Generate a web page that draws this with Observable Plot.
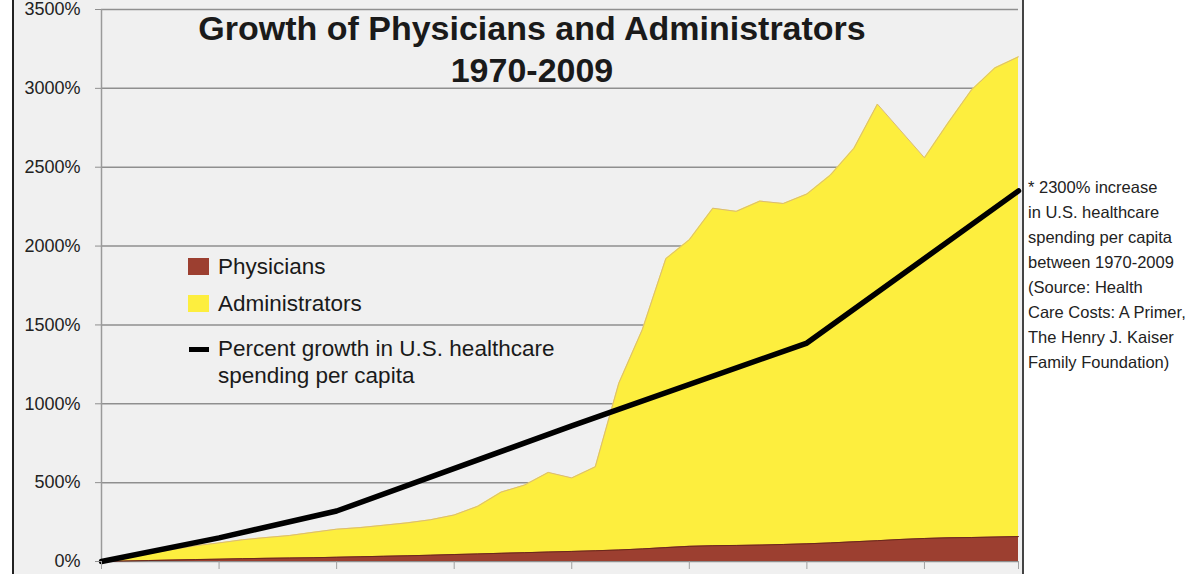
<!DOCTYPE html>
<html>
<head>
<meta charset="utf-8">
<script src="https://cdn.jsdelivr.net/npm/d3@7"></script>
<script src="https://cdn.jsdelivr.net/npm/@observablehq/plot@0.6"></script>
<style>
  html, body { margin: 0; padding: 0; background: #ffffff; }
  #wrap { position: relative; width: 1200px; height: 574px; overflow: hidden; font-family: "Liberation Sans", Arial, sans-serif; }
  #panel { position: absolute; left: 12px; top: 0; width: 1008px; height: 574px; background: #f0f0f0; border-left: 2px solid #222; border-right: 2px solid #444; }
  #chart { position: absolute; left: 0; top: 0; }
  .title { position: absolute; left: 0; width: 1064px; text-align: center; font-weight: bold; font-size: 34px; line-height: 42px; color: #1a1a1a; }
  .leg { position: absolute; font-size: 22.5px; line-height: 22px; color: #1a1a1a; white-space: nowrap; }
  .sw { position: absolute; }
  #note { position: absolute; left: 1028px; top: 175px; font-size: 16.5px; line-height: 25px; color: #222; }
</style>
</head>
<body>
<div id="wrap">
  <div id="panel"></div>
  <div id="chart"></div>
  <div class="title" style="top:7px;">Growth of Physicians and Administrators<br>1970-2009</div>
  <div class="sw" style="left:188px; top:258px; width:21px; height:17px; background:#9c3f30;"></div>
  <div class="leg" style="left:218px; top:256px;">Physicians</div>
  <div class="sw" style="left:188px; top:295px; width:21px; height:17px; background:#fdee3e;"></div>
  <div class="leg" style="left:218px; top:293px;">Administrators</div>
  <div class="sw" style="left:189px; top:347px; width:20px; height:5px; background:#000;"></div>
  <div class="leg" style="left:218px; top:338px;">Percent growth in U.S. healthcare</div>
  <div class="leg" style="left:218px; top:365px;">spending per capita</div>
  <div id="note">* 2300% increase<br>in U.S. healthcare<br>spending per capita<br>between 1970-2009<br>(Source: Health<br>Care Costs: A Primer,<br>The Henry J. Kaiser<br>Family Foundation)</div>
</div>
<script>
const years = [1970,1971,1972,1973,1974,1975,1976,1977,1978,1979,
               1980,1981,1982,1983,1984,1985,1986,1987,1988,1989,
               1990,1991,1992,1993,1994,1995,1996,1997,1998,1999,
               2000,2001,2002,2003,2004,2005,2006,2007,2008,2009];
const administrators = [0,25,50,75,100,118,138,152,165,185,
                        205,215,230,245,265,295,350,440,485,565,
                        530,600,1130,1470,1920,2040,2240,2220,2285,2270,
                        2330,2450,2620,2900,2730,2560,2780,2990,3130,3200];
const physicians = [0,3,6,9,12,15,18,20,22,24,
                    27,30,33,36,40,44,48,52,56,60,
                    64,68,73,80,88,96,100,102,104,108,
                    112,118,125,132,140,146,150,152,155,158];
const spendingYears = [1970,1975,1980,1990,2000,2009];
const spending = [0,150,320,860,1385,2350];
const yTicks = [0,500,1000,1500,2000,2500,3000,3500];
const xTicks = [1970,1975,1980,1985,1990,1995,2000,2005,2009];

const adminData = years.map((y,i) => ({year: y, value: administrators[i]}));
const physData = years.map((y,i) => ({year: y, value: physicians[i]}));
const spendData = spendingYears.map((y,i) => ({year: y, value: spending[i]}));

const chart = Plot.plot({
  width: 1200,
  height: 574,
  marginLeft: 101,
  marginRight: 182,
  marginTop: 9,
  marginBottom: 13,
  x: {domain: [1970, 2009], label: null},
  y: {domain: [0, 3500], label: null},
  style: {background: "transparent", fontFamily: "'Liberation Sans', Arial, sans-serif", color: "#222", overflow: "visible"},
  marks: [
    Plot.gridY(yTicks, {stroke: "#8f8f8f", strokeOpacity: 1, strokeWidth: 1.5}),
    Plot.areaY(adminData, {x: "year", y: "value", fill: "#fdee3e"}),
    Plot.lineY(adminData, {x: "year", y: "value", stroke: "#d9b97a", strokeWidth: 1}),
    Plot.areaY(physData, {x: "year", y: "value", fill: "#9c3f30"}),
    Plot.lineY(physData, {x: "year", y: "value", stroke: "#6a281c", strokeWidth: 1}),
    Plot.ruleX([1970], {stroke: "#9a9a9a", strokeWidth: 1.5}),
    Plot.lineY(spendData, {x: "year", y: "value", stroke: "#000", strokeWidth: 5.5, strokeLinejoin: "round", strokeLinecap: "round"}),
    Plot.axisY(yTicks, {tickSize: 6, tickPadding: 15, tickFormat: d => d + "%", stroke: "#8f8f8f", fill: "#222", fontSize: 18, label: null}),
    Plot.axisX(xTicks, {tickSize: 8, tickFormat: () => "", stroke: "#a0a0a0", label: null})
  ]
});
document.getElementById("chart").appendChild(chart);
</script>
</body>
</html>
